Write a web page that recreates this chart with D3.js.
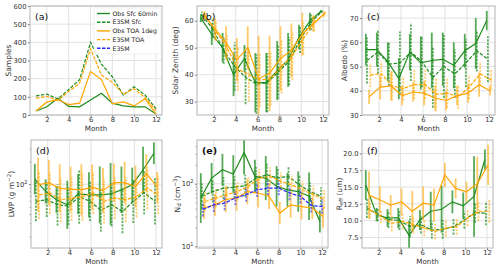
<!DOCTYPE html>
<html>
<head>
<meta charset="utf-8">
<script src="https://cdn.jsdelivr.net/npm/d3@7"></script>
<style>
  body { margin: 0; background: #fff; }
  svg { display: block; font-family: "DejaVu Sans", sans-serif; }
</style>
</head>
<body>
<svg id="chart" width="500" height="269"></svg>
<script>
var months = [1, 2, 3, 4, 5, 6, 7, 8, 9, 10, 11, 12];
var monthTicks = [2, 4, 6, 8, 10, 12];

// (a) number of samples
var samplesObsSfc = [22, 45, 92, 47, 45, 83, 120, 65, 50, 45, 45, 5];
var samplesE3smSfc = [105, 115, 88, 140, 195, 400, 280, 210, 110, 155, 110, 35];
var samplesObsToa = [22, 72, 85, 57, 65, 240, 195, 62, 72, 50, 90, 5];
var samplesE3smToa = [92, 102, 80, 130, 175, 365, 220, 180, 115, 145, 95, 25];

// (b) solar zenith angle, mean and std
var szaObsSfc = [61, 55, 50, 40, 46, 37, 37, 41.5, 45.5, 54, 60, 63.5];
var szaObsSfcStd = [1.5, 4, 5.5, 8, 5, 11, 11, 11, 10, 4.5, 3, 0.5];
var szaE3smSfc = [62, 57, 49, 43, 39, 36.5, 37, 41, 45, 53, 59.5, 63.5];
var szaE3smSfcStd = [1.5, 3.5, 5, 9, 10, 11, 11, 10, 9, 5, 3, 0.5];
var szaObsToa = [62, 57, 52, 45.5, 50, 38.5, 40.5, 46, 49, 55, 59, 62.5];
var szaObsToaStd = [1.5, 4, 6, 8, 8, 16, 14, 12, 10, 8, 3, 1];
var szaE3smToa = [62, 56, 50, 42, 40, 38, 38.5, 43, 47, 53.5, 59, 63];
var szaE3smToaStd = [1.5, 3.5, 5, 8, 10, 10, 10, 10, 9, 6, 3, 0.5];

// (c) albedo
var albObsSfc = [57, 57, 52, 45, 56, 51.5, 52.5, 53, 50.5, 56.5, 59.5, 69];
var albObsSfcStd = [6.5, 7, 8, 8.5, 7.5, 11, 11.5, 11, 9.5, 7, 10.5, 4];
var albE3smSfc = [52.5, 56, 51, 51.5, 56, 52, 45.5, 50, 47, 51.5, 56.5, 53];
var albE3smSfcStd = [9.5, 9, 9, 13, 12, 10.5, 12.5, 13, 10, 10, 8.5, 9.5];
var albObsToa = [37.5, 41.5, 42, 38, 39.5, 39, 37, 36, 38, 39, 42.5, 40];
var albObsToaStd = [3, 5, 6, 4, 4, 5, 5, 4, 4, 4, 5, 2];
var albE3smToa = [46.5, 47, 42, 41, 42.5, 42.5, 38.5, 39, 37.5, 41.5, 47, 44.5];
var albE3smToaStd = [5, 5, 6, 5, 6, 6, 7, 6, 5, 5, 5, 4];

// (d) LWP, mean and geometric spread factor
var lwpObsSfc = [117, 80, 62, 53, 74, 72, 72, 74, 84, 98, 155, 259];
var lwpObsSfcGsd = [1.6, 1.45, 1.5, 2.1, 1.85, 2.0, 2.4, 2.6, 2.05, 1.7, 2.05, 1.4];
var lwpE3smSfc = [59, 62, 53, 51, 68, 59, 45, 53, 43, 59, 77, 59];
var lwpE3smSfcGsd = [1.85, 1.7, 1.9, 1.8, 2.3, 1.85, 1.95, 1.95, 1.95, 1.95, 1.95, 2.05];
var lwpObsToa = [98, 105, 88, 86, 84, 91, 82, 105, 105, 93, 140, 91];
var lwpObsToaGsd = [2.3, 2.0, 2.1, 2.0, 2.2, 2.0, 2.0, 1.8, 1.9, 1.9, 1.8, 1.6];
var lwpE3smToa = [72, 76, 62, 65, 68, 76, 59, 65, 62, 68, 88, 72];
var lwpE3smToaGsd = [2.1, 1.9, 2.0, 2.0, 2.1, 1.9, 2.0, 1.9, 2.0, 1.9, 1.9, 1.8];

// (e) droplet number
var ndObsSfc = [59, 123, 167, 143, 316, 131, 123, 91, 80, 75, 63, 25];
var ndObsSfcGsd = [2.5, 1.75, 1.8, 2.0, 2.25, 1.85, 2.25, 2.1, 1.85, 2.1, 2.4, 1.5];
var ndE3smSfc = [63, 75, 85, 88, 93, 123, 139, 123, 131, 96, 75, 63];
var ndE3smSfcGsd = [1.6, 1.5, 1.5, 1.5, 1.5, 1.5, 1.5, 1.45, 1.45, 1.45, 1.4, 1.4];
var ndObsToa = [41, 46, 56, 59, 75, 71, 63, 34, 46, 43, 41, 30];
var ndObsToaGsd = [1.5, 1.5, 1.6, 1.6, 1.6, 1.7, 1.6, 1.5, 1.6, 1.6, 1.5, 1.5];
var ndE3smToa = [52, 59, 67, 75, 91, 123, 131, 109, 96, 80, 67, 56];
var ndE3smToaGsd = [1.4, 1.4, 1.4, 1.4, 1.4, 1.4, 1.4, 1.4, 1.4, 1.4, 1.4, 1.4];
var ndE3sm = [39, 46, 49, 59, 67, 80, 85, 85, 71, 63, 45, 43];
var ndE3smGsd = [1.3, 1.3, 1.3, 1.3, 1.3, 1.3, 1.3, 1.3, 1.3, 1.3, 1.3, 1.3];

// (f) effective radius
var reffObsSfc = [15.3, 10.9, 10.4, 10.4, 7.8, 10.1, 11.4, 11.7, 12.8, 12.2, 13.6, 19.1];
var reffObsSfcStd = [2.2, 1, 1.3, 1.5, 2.2, 1.5, 2.9, 3.5, 1.7, 2, 6, 1.5];
var reffE3smSfc = [11.9, 10.9, 10.2, 10.0, 9.1, 9.4, 8.6, 8.7, 9.1, 10.1, 11.2, 11.1];
var reffE3smSfcStd = [1.5, 1, 1.3, 1.4, 1.6, 1.3, 1.3, 1.4, 1.2, 1.3, 1.5, 1.8];
var reffObsToa = [13.8, 13.1, 12.3, 12.8, 11.4, 12.6, 12.3, 16.8, 14.8, 14.3, 15.5, 18.3];
var reffObsToaStd = [3.5, 2, 1.5, 2, 3, 2.5, 2.5, 1.8, 1.5, 1.5, 4, 3];
var reffE3smToa = [11.6, 10.6, 9.6, 9.9, 9.4, 8.9, 8.4, 8.9, 9.1, 10.4, 11.4, 11.4];
var reffE3smToaStd = [1.3, 1, 1.2, 1.2, 1.3, 1.2, 1.2, 1.3, 1.2, 1.2, 1.5, 1.7];

var green = "#1e8c1e";
var orange = "#ffa500";
var blue = "#2a2aff";

var styles = {
  obsSfc: { label: "Obs Sfc 60min", color: green, dash: null, shift: -0.2, barOpacity: 0.75 },
  e3smSfc: { label: "E3SM Sfc", color: green, dash: "3.5,1.5", shift: -0.1, barOpacity: 0.7 },
  obsToa: { label: "Obs TOA 1deg", color: orange, dash: null, shift: 0.1, barOpacity: 0.6 },
  e3smToa: { label: "E3SM TOA", color: orange, dash: "3.5,1.5", shift: 0.2, barOpacity: 0.55 },
  e3sm: { label: "E3SM", color: blue, dash: "3.5,1.5", shift: 0, barOpacity: 0.6 }
};

var panels = [
  { id: "a", x: 30, y: 6, w: 132, h: 109, domain: [0, 600], ticks: [0, 100, 200, 300, 400, 500, 600],
    ylabel: "Samples", ylabelX: 8, shift: false,
    series: [["obsSfc", samplesObsSfc], ["e3smSfc", samplesE3smSfc], ["obsToa", samplesObsToa], ["e3smToa", samplesE3smToa]] },
  { id: "b", x: 197, y: 6, w: 132, h: 109, domain: [25, 65.5], ticks: [30, 40, 50, 60],
    ylabel: "Solar Zenith (deg)", ylabelX: 175, shift: true,
    series: [["obsSfc", szaObsSfc, szaObsSfcStd], ["e3smSfc", szaE3smSfc, szaE3smSfcStd],
             ["obsToa", szaObsToa, szaObsToaStd], ["e3smToa", szaE3smToa, szaE3smToaStd]] },
  { id: "c", x: 362, y: 6, w: 133, h: 109, domain: [30, 75], ticks: [30, 40, 50, 60, 70],
    ylabel: "Albedo (%)", ylabelX: 344, shift: true,
    series: [["obsSfc", albObsSfc, albObsSfcStd], ["e3smSfc", albE3smSfc, albE3smSfcStd],
             ["obsToa", albObsToa, albObsToaStd], ["e3smToa", albE3smToa, albE3smToaStd]] },
  { id: "d", x: 31, y: 140, w: 131, h: 108, log: true, domain: [14, 390], ticks: [100],
    minor: [20, 30, 40, 50, 60, 70, 80, 90, 200, 300],
    ylabel: ["LWP (g m", "\u22122", ")"], ylabelX: 11, shift: true,
    series: [["obsSfc", lwpObsSfc, lwpObsSfcGsd], ["e3smSfc", lwpE3smSfc, lwpE3smSfcGsd],
             ["obsToa", lwpObsToa, lwpObsToaGsd], ["e3smToa", lwpE3smToa, lwpE3smToaGsd]] },
  { id: "e", x: 197, y: 140, w: 131, h: 108, log: true, domain: [9.4, 500], ticks: [10, 100],
    minor: [20, 30, 40, 50, 60, 70, 80, 90, 200, 300, 400],
    ylabel: ["N", "d", " (cm", "\u22123", ")"], ylabelX: 177, shift: true, boldTag: true,
    series: [["obsSfc", ndObsSfc, ndObsSfcGsd], ["e3smSfc", ndE3smSfc, ndE3smSfcGsd],
             ["obsToa", ndObsToa, ndObsToaGsd], ["e3smToa", ndE3smToa, ndE3smToaGsd], ["e3sm", ndE3sm, ndE3smGsd]] },
  { id: "f", x: 362, y: 140, w: 131, h: 108, domain: [5.93, 22], ticks: [7.5, 10, 12.5, 15, 17.5, 20],
    ylabel: ["R", "eff", " (um)"], ylabelX: 339, shift: true, fmt: ".1f",
    series: [["obsSfc", reffObsSfc, reffObsSfcStd], ["e3smSfc", reffE3smSfc, reffE3smSfcStd],
             ["obsToa", reffObsToa, reffObsToaStd], ["e3smToa", reffE3smToa, reffE3smToaStd]] }
];

var svg = d3.select("#chart");

function drawPanel(p) {
  var g = svg.append("g").attr("transform", "translate(" + p.x + "," + p.y + ")");
  var x = d3.scaleLinear().domain([0.45, 12.55]).range([0, p.w]);
  var y = (p.log ? d3.scaleLog() : d3.scaleLinear()).domain(p.domain).range([p.h, 0]);

  g.append("clipPath").attr("id", "clip-" + p.id)
    .append("rect").attr("width", p.w).attr("height", p.h);

  // grid
  g.append("g").selectAll("line").data(monthTicks).enter().append("line")
    .attr("x1", function(d) { return x(d); }).attr("x2", function(d) { return x(d); })
    .attr("y1", 0).attr("y2", p.h)
    .attr("stroke", "#e2e2e2").attr("stroke-width", 1);
  g.append("g").selectAll("line").data(p.ticks).enter().append("line")
    .attr("x1", 0).attr("x2", p.w)
    .attr("y1", function(d) { return y(d); }).attr("y2", function(d) { return y(d); })
    .attr("stroke", "#e2e2e2").attr("stroke-width", 1);

  // axes
  var xAxis = d3.axisBottom(x).tickValues(monthTicks).tickSize(2).tickPadding(0.6);
  var gx = g.append("g").attr("transform", "translate(0," + p.h + ")").call(xAxis);

  var yAxis = d3.axisLeft(y).tickValues(p.ticks).tickSize(2).tickPadding(1.5);
  if (p.log) yAxis.tickFormat(function() { return "10"; });
  else if (p.fmt) yAxis.tickFormat(d3.format(p.fmt));
  else yAxis.tickFormat(d3.format("d"));
  var gy = g.append("g").call(yAxis);
  if (p.log) {
    gy.selectAll(".tick text").append("tspan")
      .attr("dy", -3).attr("font-size", 5)
      .text(function(d) { return Math.round(Math.log10(d)); });
    g.append("g").call(d3.axisLeft(y).tickValues(p.minor).tickSize(1.2).tickFormat(""))
      .call(function(s) { s.select(".domain").remove(); })
      .selectAll("line").attr("stroke", "#777");
  }
  [gx, gy].forEach(function(a) {
    a.select(".domain").remove();
    a.selectAll(".tick line").attr("stroke", "#777");
    a.selectAll(".tick text").attr("fill", "#333").attr("font-size", 6.8)
      .attr("font-family", "DejaVu Sans, sans-serif");
  });

  // series with error bars
  var plot = g.append("g").attr("clip-path", "url(#clip-" + p.id + ")");
  var lineGen = d3.line()
    .x(function(d) { return x(d.m); })
    .y(function(d) { return y(d.v); });

  p.series.forEach(function(s) {
    var st = styles[s[0]];
    var pts = months.map(function(m, i) {
      var v = s[1][i];
      var lo = v, hi = v;
      if (s[2]) {
        if (p.log) { lo = v / s[2][i]; hi = v * s[2][i]; }
        else { lo = v - s[2][i]; hi = v + s[2][i]; }
      }
      return { m: m + (p.shift ? st.shift : 0), v: v, lo: lo, hi: hi };
    });
    if (s[2]) {
      plot.append("g").selectAll("line").data(pts).enter().append("line")
        .attr("x1", function(d) { return x(d.m); })
        .attr("x2", function(d) { return x(d.m); })
        .attr("y1", function(d) { return y(d.lo); })
        .attr("y2", function(d) { return y(d.hi); })
        .attr("stroke", st.color)
        .attr("stroke-width", 1.8)
        .attr("stroke-opacity", st.barOpacity)
        .attr("stroke-dasharray", st.dash ? "2.2,1.2" : null);
    }
    plot.append("path").datum(pts)
      .attr("d", lineGen)
      .attr("fill", "none")
      .attr("stroke", st.color)
      .attr("stroke-width", 1.2)
      .attr("stroke-dasharray", st.dash);
  });

  // frame
  g.append("rect").attr("width", p.w).attr("height", p.h)
    .attr("fill", "none").attr("stroke", "#b4b4b4").attr("stroke-width", 1);

  // panel tag
  g.append("text").attr("x", 5).attr("y", 14)
    .attr("font-size", 9.5).attr("fill", "#111")
    .attr("font-weight", p.boldTag ? "bold" : null)
    .text("(" + p.id + ")");

  // axis labels
  g.append("text").attr("x", p.w / 2).attr("y", p.h + 16)
    .attr("text-anchor", "middle").attr("font-size", 7.2).attr("fill", "#333")
    .text("Month");

  var yl = svg.append("text")
    .attr("transform", "translate(" + (p.ylabelX + 2.5) + "," + (p.y + p.h / 2) + ") rotate(-90)")
    .attr("text-anchor", "middle").attr("font-size", 7.5).attr("fill", "#333");
  if (typeof p.ylabel === "string") {
    yl.text(p.ylabel);
  } else {
    p.ylabel.forEach(function(part, i) {
      var t = yl.append("tspan").text(part);
      if (i % 2 === 1) {
        var sup = p.id === "d" || (p.id === "e" && i === 3);
        t.attr("font-size", 5.5).attr("dy", sup ? -3 : 1.5);
      } else if (i > 0) {
        var prevSup = p.id === "d" || (p.id === "e" && i === 4);
        t.attr("dy", prevSup ? 3 : -1.5);
      }
    });
  }
}

panels.forEach(drawPanel);

// legend in panel (a)
var pa = panels[0];
var legend = svg.append("g").attr("transform", "translate(" + (pa.x + 64) + "," + (pa.y + 2) + ")");
var legendKeys = ["obsSfc", "e3smSfc", "obsToa", "e3smToa", "e3sm"];
legend.append("rect").attr("x", 0).attr("y", 0).attr("width", 67).attr("height", 46)
  .attr("fill", "#fff").attr("fill-opacity", 0.85)
  .attr("stroke", "#e6e6e6").attr("stroke-width", 0.6).attr("rx", 1.5);
legendKeys.forEach(function(k, i) {
  var st = styles[k];
  var ly = 5.5 + i * 8.7;
  legend.append("line").attr("x1", 3).attr("x2", 16).attr("y1", ly).attr("y2", ly)
    .attr("stroke", st.color).attr("stroke-width", 1.4).attr("stroke-dasharray", st.dash);
  legend.append("text").attr("x", 18.5).attr("y", ly + 2.2)
    .attr("font-size", 6.2).attr("fill", "#222").text(st.label);
});
</script>
</body>
</html>
